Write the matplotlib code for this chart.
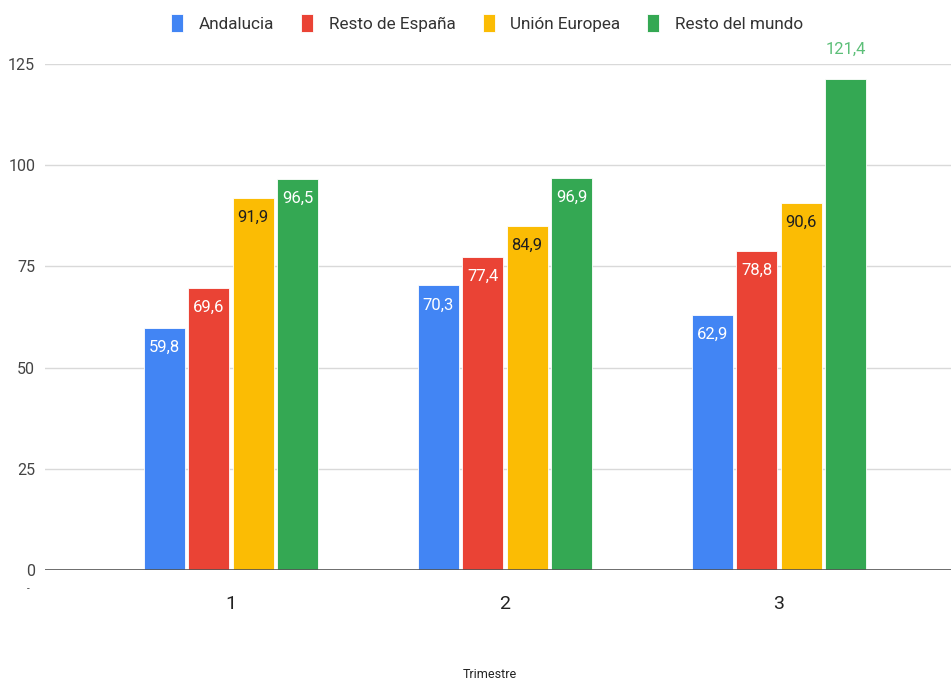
import matplotlib
matplotlib.use("Agg")
import matplotlib.pyplot as plt
import numpy as np

plt.rcParams['font.family'] = ['Roboto', 'DejaVu Sans']

trimestres = ["1", "2", "3"]
series = ["Andalucia", "Resto de España", "Unión Europea", "Resto del mundo"]
andalucia = [59.8, 70.3, 62.9]
resto_espana = [69.6, 77.4, 78.8]
union_europea = [91.9, 84.9, 90.6]
resto_mundo = [96.5, 96.9, 121.4]

colors = ["#4285f4", "#ea4335", "#fbbc04", "#34a853"]
label_colors = ["white", "white", "#1f1f1f", "white"]

fig = plt.figure(figsize=(9.51, 6.80), dpi=100)
ax = fig.add_axes([45 / 951, 110 / 680, 906 / 951, 506 / 680])

x = np.arange(1, len(trimestres) + 1)
width = 0.15
step = 0.162
values = [andalucia, resto_espana, union_europea, resto_mundo]

for i, (name, vals) in enumerate(zip(series, values)):
    pos = x + (i - 1.5) * step
    bars = ax.bar(pos, vals, width, color=colors[i], label=name,
                  edgecolor="white", linewidth=0.6, zorder=3)
    for b, v in zip(bars, vals):
        txt = f"{v:.1f}".replace(".", ",")
        cx = b.get_x() + b.get_width() / 2
        if v > 120:
            ax.annotate(txt, (cx, v), xytext=(0, 21), textcoords="offset points",
                        ha="center", va="center", fontsize=12,
                        color="#5cbf78", clip_on=False, zorder=4)
        else:
            ax.annotate(txt, (cx, v), xytext=(0, -14), textcoords="offset points",
                        ha="center", va="center", fontsize=12,
                        color=label_colors[i], zorder=4)

ax.set_xlim(0.321, 3.628)
ax.set_ylim(0, 125)
ax.set_yticks([0, 25, 50, 75, 100, 125])
ax.set_yticklabels(["0", "25", "50", "75", "100", "125"])
ax.set_xticks(x)
ax.set_xticklabels(trimestres)

ax.grid(axis="y", color="#d9d9d9", linewidth=1, zorder=0)
ax.axhline(0, color="#555555", linewidth=1.2, zorder=4)
for s in ax.spines.values():
    s.set_visible(False)
ax.tick_params(axis="y", length=0, pad=7, labelsize=11.5, labelcolor="#444444")
ax.tick_params(axis="x", length=0, pad=18, labelsize=14, labelcolor="#222222")

fig.text(490 / 951, 1 - 675 / 680, "Trimestre", ha="center", va="center",
         fontsize=9, color="#222222")
fig.text(28 / 951, 1 - 589 / 680, "-", ha="center", va="center",
         fontsize=7, color="#444444")

leg = fig.legend(loc="center", bbox_to_anchor=(487 / 951, 1 - 23 / 680), ncol=4,
                 frameon=False, fontsize=12.3, handlelength=0.7, handleheight=1.2,
                 handletextpad=0.9, columnspacing=1.6)
for t in leg.get_texts():
    t.set_color("#333333")

fig.savefig("out.png", dpi=100)
